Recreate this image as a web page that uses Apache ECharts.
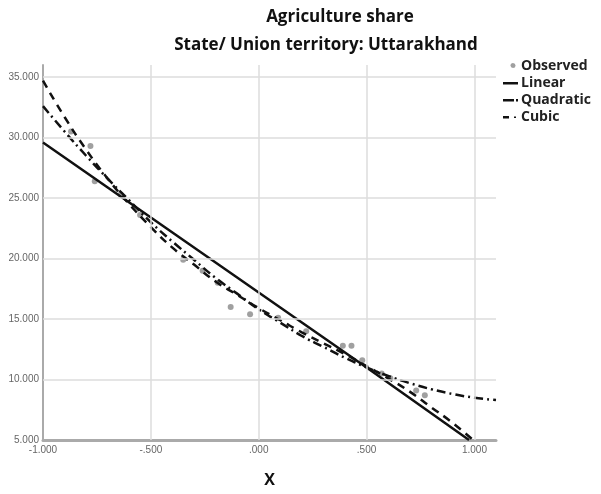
<!DOCTYPE html>
<html><head><meta charset="utf-8">
<script src="https://cdn.jsdelivr.net/npm/echarts@6/dist/echarts.min.js"></script>
<style>html,body{margin:0;padding:0;background:#fff}#c{width:601px;height:494px}</style>
</head><body><div id="c"></div>
<script>
// Observed points [x, share]
const observed = [
  [-0.87, 30.5], [-0.78, 29.3], [-0.76, 26.4], [-0.64, 25.3], [-0.55, 23.6],
  [-0.35, 19.9], [-0.26, 19.0], [-0.19, 18.0], [-0.13, 16.0], [-0.04, 15.4],
  [0.09, 15.1], [0.22, 14.0], [0.39, 12.8], [0.43, 12.8], [0.48, 11.6],
  [0.57, 10.5], [0.61, 10.1], [0.73, 9.1], [0.77, 8.7]
];
// Fitted curves
const linear = [[-1.0, 29.6], [-0.5, 23.4], [0.0, 17.2], [0.5, 11.0], [0.975, 5.0]];
const quadratic = [
  [-1.0, 32.6], [-0.9, 30.5], [-0.8, 28.5], [-0.7, 26.6], [-0.6, 24.8], [-0.5, 23.0],
  [-0.4, 21.4], [-0.3, 19.9], [-0.2, 18.4], [-0.1, 17.1], [0.0, 15.8], [0.1, 14.7],
  [0.2, 13.6], [0.3, 12.7], [0.4, 11.8], [0.5, 11.0], [0.6, 10.3], [0.7, 9.7],
  [0.8, 9.2], [0.9, 8.8], [1.0, 8.5], [1.1, 8.3]
];
const cubic = [
  [-1.0, 34.7], [-0.9, 31.7], [-0.8, 29.0], [-0.7, 26.6], [-0.6, 24.5], [-0.5, 22.6],
  [-0.4, 20.9], [-0.3, 19.5], [-0.2, 18.1], [-0.1, 17.0], [0.0, 15.9], [0.1, 14.9],
  [0.2, 13.9], [0.3, 13.0], [0.4, 12.1], [0.5, 11.1], [0.6, 10.1], [0.7, 9.0],
  [0.8, 7.7], [0.9, 6.4], [1.0, 4.9]
];
const xTicks = [-1, -0.5, 0, 0.5, 1];
const yTicks = [5, 10, 15, 20, 25, 30, 35];
const legendNames = ['Observed', 'Linear', 'Quadratic', 'Cubic'];

function spss(v) {
  const a = Math.abs(v).toFixed(3);
  const s = Math.abs(v) < 1 ? a.replace(/^0/, '') : a;
  return (v < 0 ? '-' : '') + s;
}
// legend icon shapes in an 18x12 box (corner points fix the bounding box)
const box = 'M0,0L0,0M18,12L18,12';
const icons = {
  Observed: 'path://' + box + 'M11,3a2.5,2.5 0 1,0 0.01,0Z',
  Linear: 'path://' + box + 'M1,5L16,5L16,7.5L1,7.5Z',
  Quadratic: 'path://' + box + 'M1,5L12,5L12,7.5L1,7.5ZM14,5L16,5L16,7.5L14,7.5Z',
  Cubic: 'path://' + box + 'M1,5L7,5L7,7.5L1,7.5ZM12,5.5L14,5.5L14,7L12,7Z'
};
const gridColor = '#dcdcdc';
const chart = echarts.init(document.getElementById('c'), null, {renderer: 'canvas'});
const tf = 'Open Sans, Noto Sans, sans-serif';
chart.setOption({
  animation: false,
  backgroundColor: '#fff',
  title: [
    {text: 'Agriculture share', left: 335, top: 4, textAlign: 'center',
     textStyle: {fontFamily: tf, fontSize: 17, fontWeight: 'bold', color: '#111'}},
    {text: 'State/ Union territory: Uttarakhand', left: 321, top: 32, textAlign: 'center',
     textStyle: {fontFamily: tf, fontSize: 17, fontWeight: 'bold', color: '#111'}}
  ],
  legend: {
    orient: 'vertical', left: 497, top: 54, itemGap: 3, itemWidth: 18, itemHeight: 12,
    data: legendNames.map(n => ({name: n, icon: icons[n]})),
    textStyle: {fontFamily: tf, fontSize: 14, fontWeight: 'bold', color: '#222', padding: [0, 0, 0, -4]}
  },
  grid: {left: 43, right: 105, top: 65, bottom: 54},
  xAxis: {
    type: 'value', min: -1, max: 1.1, interval: 0.5,
    name: 'X', nameLocation: 'middle', nameGap: 32,
    nameTextStyle: {fontFamily: tf, fontSize: 16, fontWeight: 'bold', color: '#111', padding: [0, 0, 0, 0]},
    axisLine: {show: true, onZero: false, lineStyle: {color: '#aaa', width: 3}},
    axisTick: {show: false},
    splitLine: {show: false},
    axisLabel: {fontFamily: 'Liberation Sans Narrow, Liberation Sans, sans-serif', fontSize: 10, color: '#666', margin: 5,
      formatter: v => (Math.abs(v - 1.1) < 1e-6 ? '' : spss(v))}
  },
  yAxis: {
    type: 'value', min: 5, max: 36, interval: 5,
    axisLine: {show: true, onZero: false, lineStyle: {color: '#aaa', width: 2}},
    axisTick: {show: false},
    splitLine: {show: false},
    axisLabel: {fontFamily: 'Liberation Sans Narrow, Liberation Sans, sans-serif', fontSize: 10, color: '#666', margin: 4,
      formatter: v => (v === 36 ? '' : spss(v))}
  },
  series: [
    {
      name: 'Observed', type: 'scatter', data: observed, symbolSize: 6, z: 2,
      itemStyle: {color: '#888'},
      markLine: {
        silent: true, symbol: ['none', 'none'], label: {show: false}, animation: false,
        lineStyle: {color: gridColor, width: 1.5, type: 'solid'},
        emphasis: {disabled: true},
        data: xTicks.slice(1).map(v => ({xAxis: v})).concat(yTicks.slice(1).map(v => ({yAxis: v})))
      }
    },
    {name: 'Linear', type: 'line', data: linear, symbol: 'none', z: 4,
     lineStyle: {color: '#111', width: 2.5, type: 'solid'}, itemStyle: {color: '#111'}},
    {name: 'Quadratic', type: 'line', data: quadratic, symbol: 'none', smooth: true, z: 4,
     lineStyle: {color: '#111', width: 2.5, type: [9, 4, 2, 4]}, itemStyle: {color: '#111'}},
    {name: 'Cubic', type: 'line', data: cubic, symbol: 'none', smooth: true, z: 4,
     lineStyle: {color: '#111', width: 2.5, type: [8, 6]}, itemStyle: {color: '#111'}}
  ]
});
</script>
</body></html>
